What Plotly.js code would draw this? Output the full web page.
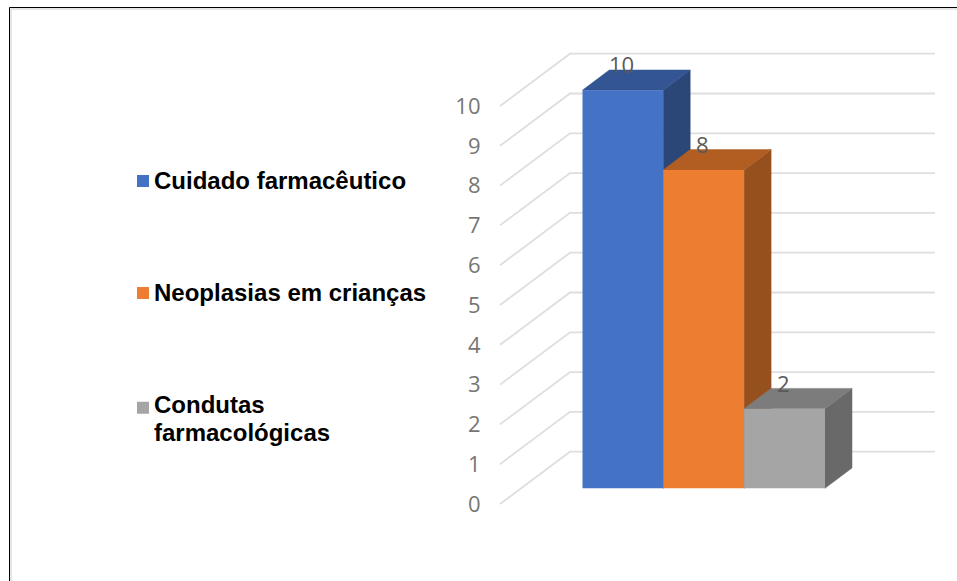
<!DOCTYPE html>
<html>
<head>
<meta charset="utf-8">
<script src="https://cdn.plot.ly/plotly-3.0.1.min.js"></script>
<style>html,body{margin:0;padding:0;background:#fff;overflow:hidden}</style>
</head>
<body>
<div id="chart" style="width:957px;height:581px"></div>
<script>
const categories = ["Cuidado farmacêutico", "Neoplasias em crianças", "Condutas<br>farmacológicas"];
const values = [10, 8, 2];
const frontColors = ["#4472C4", "#ED7D31", "#A5A5A5"];
const topColors = ["#335593", "#B25E22", "#7C7C7C"];
const sideColors = ["#2A4778", "#95501E", "#696969"];
const axisTicks = [0, 1, 2, 3, 4, 5, 6, 7, 8, 9, 10];

const W = 957, H = 581;
// pixel helpers used only to derive axis ranges and domains
const unit = 39.8;
const wallZeroPx = 504, barZeroPx = 488.3;
const rangeFor = zero => [-(H - zero) / unit, zero / unit];
const barW = 80.9, barLeft = 582.3;
const depthX = 27 / barW, depthY = 20.3 / unit;
const wallRise = 52.3 / unit;
const floorX0 = 500, floorX1 = 570, wallEnd = 935;

const traces = [];

// floor diagonals + back-wall gridlines
const gx = [], gy = [];
axisTicks.forEach(v => {
  gx.push(floorX0, floorX1, wallEnd, null);
  gy.push(v, v + wallRise, v + wallRise, null);
});
traces.push({type: "scatter", mode: "lines", x: gx, y: gy, xaxis: "x", yaxis: "y",
  line: {color: "#DEDEDE", width: 1.8}, showlegend: false, hoverinfo: "skip"});

// side and top faces of every bar, back to front
values.forEach((v, i) => {
  traces.push({type: "scatter", mode: "lines", xaxis: "x2", yaxis: "y2", fill: "toself",
    fillcolor: sideColors[i], line: {color: sideColors[i], width: 0.5},
    x: [i + .5, i + .5, i + .5 + depthX, i + .5 + depthX, i + .5],
    y: [0, v, v + depthY, depthY, 0], showlegend: false, hoverinfo: "skip"});
  traces.push({type: "scatter", mode: "lines", xaxis: "x2", yaxis: "y2", fill: "toself",
    fillcolor: topColors[i], line: {color: topColors[i], width: 0.5},
    x: [i - .5, i + .5, i + .5 + depthX, i - .5 + depthX, i - .5],
    y: [v, v, v + depthY, v + depthY, v], showlegend: false, hoverinfo: "skip"});
});

// front faces, which also feed the legend
const legendSpan = '<span style="font-size:24px">';
values.forEach((v, i) => {
  traces.push({type: "bar", x: [i], y: [v], width: 1, xaxis: "x3", yaxis: "y3",
    name: legendSpan + categories[i].replace("<br>", "</span><br>" + legendSpan) + "</span>",
    legendgroup: "g" + i, marker: {color: frontColors[i], line: {width: 0}}, hoverinfo: "y"});
});

const xr = [-0.5, 2.5 + depthX + 0.02];
const dom = [barLeft / W, (barLeft + (xr[1] - xr[0]) * barW) / W];
const hidden = {visible: false, fixedrange: true};

const frame = (x0, y0, x1, y1, color, width) => ({type: "line", xref: "paper", yref: "paper",
  x0: x0 / W, x1: x1 / W, y0: 1 - y0 / H, y1: 1 - y1 / H, line: {color, width}});

const layout = {
  width: W, height: H,
  margin: {l: 0, r: 0, t: 0, b: 0},
  paper_bgcolor: "#fff", plot_bgcolor: "rgba(0,0,0,0)",
  barmode: "overlay",
  font: {family: "Liberation Sans, Arial, sans-serif"},
  xaxis: Object.assign({range: [0, W], domain: [0, 1]}, hidden),
  yaxis: {range: rangeFor(wallZeroPx), domain: [0, 1], anchor: "free", position: 480.5 / W,
    tickvals: axisTicks, ticktext: axisTicks.map(String), showgrid: false, zeroline: false,
    showline: false, ticks: "", ticklabelstandoff: 0, ticklabelshift: -1.5,
    tickfont: {family: "Open Sans, sans-serif", size: 22, color: "#767676"}, fixedrange: true},
  xaxis2: Object.assign({range: xr, domain: dom, anchor: "y2"}, hidden),
  yaxis2: Object.assign({range: rangeFor(barZeroPx), domain: [0, 1], anchor: "x2"}, hidden),
  xaxis3: Object.assign({range: xr, overlaying: "x2", anchor: "y3"}, hidden, {domain: dom}),
  yaxis3: Object.assign({range: rangeFor(barZeroPx), overlaying: "y2", anchor: "x3"}, hidden, {domain: [0, 1]}),
  showlegend: true,
  legend: {x: 114 / W, y: 1 - 160.5 / H, xanchor: "left", yanchor: "top",
    bgcolor: "rgba(0,0,0,0)", tracegroupgap: 81, itemclick: false, itemdoubleclick: false,
    font: {family: "Liberation Sans, Arial, sans-serif", size: 21.5, color: "#000", weight: 700}},
  annotations: values.map((v, i) => ({xref: "x3", yref: "y3", x: i, y: v, text: String(v),
    showarrow: false, xanchor: "center", yanchor: "middle", yshift: 26, xshift: -1,
    font: {family: "Open Sans, sans-serif", size: 22, color: "#595959"}})),
  shapes: [
    frame(11, 9, W, 9, "#E6E6E6", 2),
    frame(11, 9, 11, H, "#E6E6E6", 2),
    frame(9.5, 7.5, W, 7.5, "#000", 1),
    frame(9.5, 7.5, 9.5, H, "#000", 1)
  ]
};

Plotly.newPlot("chart", traces, layout, {displayModeBar: false}).then(() => {
  // the reference keeps each legend swatch close to the first line of its text
  document.querySelectorAll("#chart .legend .traces").forEach(item => {
    const lines = item.querySelectorAll(".legendtext .line").length || 1;
    const swatch = item.querySelector(".legendsymbols");
    if (swatch) swatch.setAttribute("transform", "translate(9," + (-(lines - 1) * 11) + ")");
  });
});
</script>
</body>
</html>
